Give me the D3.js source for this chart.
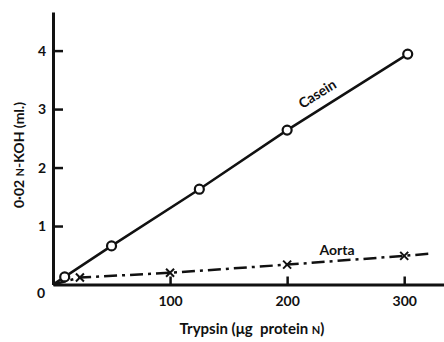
<!DOCTYPE html>
<html>
<head>
<meta charset="utf-8">
<script src="https://cdn.jsdelivr.net/npm/d3@7"></script>
<style>
  body { margin: 0; background: #fff; }
  text { font-family: Lato, "Open Sans", sans-serif; fill: #111; }
</style>
</head>
<body>
<div id="chart"></div>
<script>
// trypsin (ug protein N) vs 0.02 N-KOH (ml.)
let caseinX = [0, 10, 50, 125, 200, 303];
let caseinY = [0, 0.13, 0.66, 1.63, 2.64, 3.94];
let caseinMarks = [1, 2, 3, 4, 5]; // indexes that have circles

let aortaX = [0, 23, 100, 200, 300, 323];
let aortaY = [0, 0.12, 0.2, 0.34, 0.49, 0.53];
let aortaMarks = [1, 2, 3, 4];

let xTicks = [100, 200, 300];
let yTicks = [1, 2, 3, 4];

let width = 444,
    height = 342;
let margin = { left: 53, top: 12, bottom: 57 };

let svg = d3.select("#chart")
    .append("svg")
    .attr("width", width)
    .attr("height", height);

let x = d3.scaleLinear().domain([0, 334]).range([margin.left, width]);
let y = d3.scaleLinear().domain([0, 4.66]).range([height - margin.bottom - 0.5, margin.top]);

// axes, ticks pointing inward
let xAxis = svg.append("g")
    .attr("transform", "translate(0," + y(0) + ")")
    .call(d3.axisBottom(x).tickValues(xTicks).tickFormat(d3.format("d"))
        .tickSize(-8).tickPadding(12).tickSizeOuter(0));

let yAxis = svg.append("g")
    .attr("transform", "translate(" + x(0) + ",0)")
    .call(d3.axisLeft(y).tickValues(yTicks).tickFormat(d3.format("d"))
        .tickSize(-10).tickPadding(7).tickSizeOuter(0));

[xAxis, yAxis].forEach(function (g) {
    g.select(".domain").attr("stroke", "#111").attr("stroke-width", 3);
    g.selectAll(".tick line").attr("stroke", "#111").attr("stroke-width", 2.5);
    g.selectAll(".tick text")
        .style("font-size", "14px")
        .style("font-weight", "bold")
        .attr("fill", "#111");
});

svg.append("text")
    .attr("x", x(0) - 8)
    .attr("y", y(0) + 13)
    .attr("text-anchor", "end")
    .style("font-size", "14px")
    .style("font-weight", "bold")
    .text("0");

// axis titles
svg.append("text")
    .attr("x", 252)
    .attr("y", 334)
    .attr("text-anchor", "middle")
    .style("font-size", "15px")
    .style("font-weight", "bold")
    .html('Trypsin (\u03bcg&#160; protein <tspan style="font-size:11px">N</tspan>)');

svg.append("text")
    .attr("transform", "translate(24,155) rotate(-90)")
    .attr("text-anchor", "middle")
    .style("font-size", "14px")
    .style("font-weight", "bold")
    .html('0\u00b702 <tspan style="font-size:11px">N</tspan>-KOH (ml.)');

let line = d3.line()
    .x(function (d) { return x(d[0]); })
    .y(function (d) { return y(d[1]); });

let casein = caseinX.map(function (v, i) { return [v, caseinY[i]]; });
let aorta = aortaX.map(function (v, i) { return [v, aortaY[i]]; });

svg.append("path")
    .attr("d", line(aorta))
    .attr("fill", "none")
    .attr("stroke", "#111")
    .attr("stroke-width", 2.5)
    .attr("stroke-dasharray", "13,5,3,5");

svg.append("path")
    .attr("d", line(casein))
    .attr("fill", "none")
    .attr("stroke", "#111")
    .attr("stroke-width", 2.5);

svg.selectAll(".casein")
    .data(caseinMarks.map(function (i) { return casein[i]; }))
    .enter().append("circle")
    .attr("class", "casein")
    .attr("cx", function (d) { return x(d[0]); })
    .attr("cy", function (d) { return y(d[1]); })
    .attr("r", 4.5)
    .attr("fill", "#fff")
    .attr("stroke", "#111")
    .attr("stroke-width", 2.2);

svg.selectAll(".aorta")
    .data(aortaMarks.map(function (i) { return aorta[i]; }))
    .enter().append("path")
    .attr("class", "aorta")
    .attr("transform", function (d) { return "translate(" + x(d[0]) + "," + y(d[1]) + ")"; })
    .attr("d", "M-4,-4L4,4M-4,4L4,-4")
    .attr("stroke", "#111")
    .attr("stroke-width", 2);

// series labels
let p1 = casein[4], p2 = casein[5];
let ang = Math.atan2(y(p2[1]) - y(p1[1]), x(p2[0]) - x(p1[0])) * 180 / Math.PI;
svg.append("text")
    .attr("transform", "translate(320,98) rotate(" + ang + ")")
    .attr("text-anchor", "middle")
    .style("font-size", "14px")
    .style("font-weight", "bold")
    .text("Casein");

svg.append("text")
    .attr("x", 337)
    .attr("y", 255)
    .attr("text-anchor", "middle")
    .style("font-size", "14px")
    .style("font-weight", "bold")
    .text("Aorta");
</script>
</body>
</html>
